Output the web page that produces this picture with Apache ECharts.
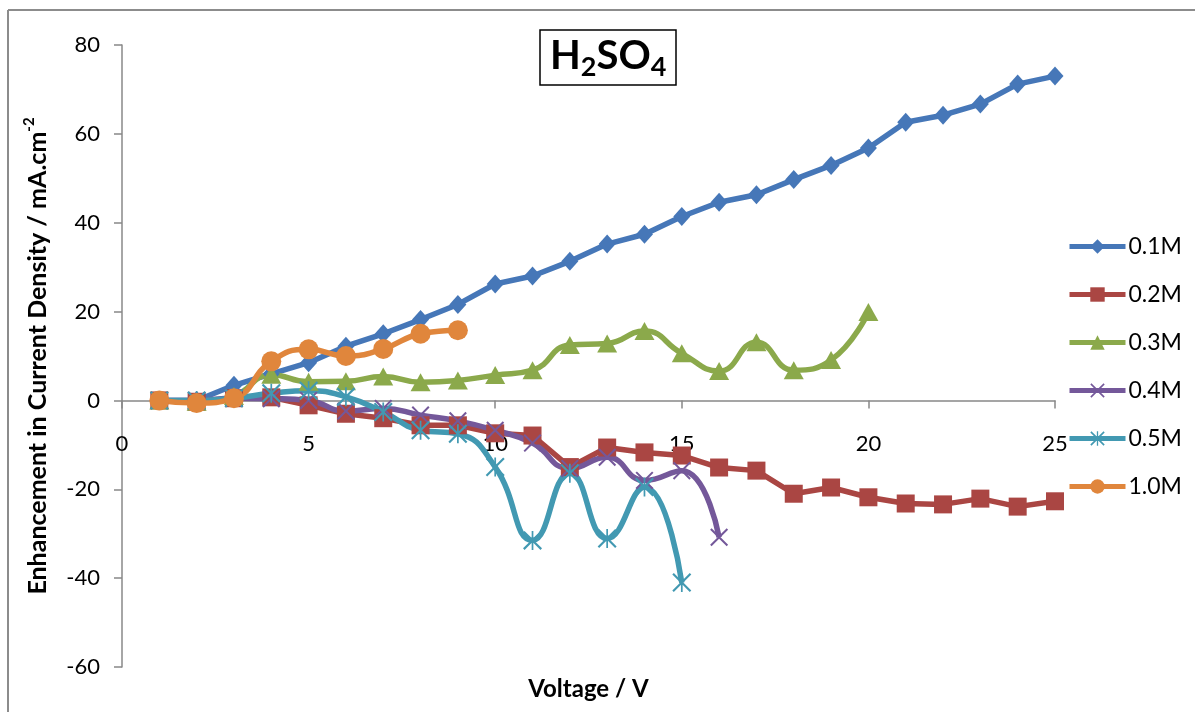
<!DOCTYPE html>
<html>
<head>
<meta charset="utf-8">
<script src="https://cdn.jsdelivr.net/npm/echarts@6/dist/echarts.min.js"></script>
<style>
html,body{margin:0;padding:0;background:#fff;}
#chart{width:1195px;height:712px;}
</style>
</head>
<body>
<div id="chart"></div>
<script>
// ---- data (x = voltage 1,2,3,... for each series) ----
const voltages = [1,2,3,4,5,6,7,8,9,10,11,12,13,14,15,16,17,18,19,20,21,22,23,24,25];
const seriesNames = ['0.1M','0.2M','0.3M','0.4M','0.5M','1.0M'];
const m01 = [0, 0, 3.4, 6, 8.5, 12.2, 15, 18.2, 21.6, 26.2, 28, 31.3, 35.2, 37.4, 41.4, 44.6, 46.3, 49.7, 52.9, 56.8, 62.6, 64.2, 66.7, 71.2, 73];
const m02 = [0, -0.3, 0.5, 0.7, -1.1, -3, -4, -5.6, -5.6, -7.4, -7.9, -15, -10.6, -11.7, -12.4, -15.1, -15.8, -21, -19.6, -21.8, -23.2, -23.4, -22.1, -23.9, -22.7];
const m03 = [0, -0.3, 1, 5.8, 4.2, 4.3, 5.4, 4.1, 4.5, 5.7, 6.8, 12.5, 12.8, 15.6, 10.6, 6.6, 13.1, 6.8, 9.1, 19.9];
const m04 = [0, 0, 0.5, 0.4, 0, -2.4, -1.8, -3.3, -4.6, -6.7, -9.6, -15.3, -12.8, -18, -15.8, -30.8];
const m05 = [0, 0, 0.5, 1.6, 2.2, 0.8, -2.6, -6.7, -7.5, -15, -31.5, -16.4, -31.1, -19.5, -41];
const m10 = [0, -0.6, 0.5, 8.8, 11.5, 10, 11.6, 15, 15.8];
const allValues = [m01, m02, m03, m04, m05, m10];
const xTicks = {min: 0, max: 25, interval: 5};
const yTicks = {min: -60, max: 80, interval: 20};

const colors = ['#4677B8', '#AA4643', '#8BA94B', '#74589A', '#4299B2', '#E0863C'];
const pX = 'path://M0,1.6 L1.6,0 L10,8.4 L18.4,0 L20,1.6 L11.6,10 L20,18.4 L18.4,20 L10,11.6 L1.6,20 L0,18.4 L8.4,10 Z';
const pStar = 'path://M0,1.6 L1.6,0 L10,8.4 L18.4,0 L20,1.6 L11.6,10 L20,18.4 L18.4,20 L10,11.6 L1.6,20 L0,18.4 L8.4,10 Z M9.1,0 L10.9,0 L10.9,20 L9.1,20 Z';
const symbols = ['diamond', 'rect', 'triangle', pX, pStar, 'circle'];
const symSizes = [[17,19], 18, [20,18], 18, 19, 20];
const smooths = [false, false, 0.5, 0.5, 0.5, 0.5];

const FONT = 'Lato, "Open Sans", sans-serif';

const GRID = {left: 122, right: 140, top: 45, bottom: 45};
const gridH = 712 - GRID.top - GRID.bottom;
// shift the x axis (line, ticks, labels, name) up to the y = 0 level
const xOffset = -(0 - yTicks.min) / (yTicks.max - yTicks.min) * gridH;

const series = allValues.map((vals, i) => ({
  name: seriesNames[i],
  type: 'line',
  data: vals.map((v, j) => [voltages[j], v]),
  smooth: smooths[i],
  symbol: symbols[i],
  symbolSize: symSizes[i],
  showAllSymbol: true,
  lineStyle: {width: 5.5, color: colors[i]},
  itemStyle: {color: colors[i], borderWidth: 0},
  emphasis: {disabled: true},
  animation: false
}));

const chart = echarts.init(document.getElementById('chart'), null, {renderer: 'canvas'});
chart.setOption({
  backgroundColor: '#ffffff',
  color: colors,
  animation: false,
  title: {
    text: '{a|H}{s|2}{a|SO}{s|4}',
    left: 540,
    top: 25,
    padding: [6, 10, 4, 10],
    borderColor: '#000',
    borderWidth: 1.5,
    textStyle: {
      rich: {
        a: {fontFamily: FONT, fontWeight: 'bold', fontSize: 40, color: '#000', lineHeight: 50, verticalAlign: 'middle'},
        s: {fontFamily: FONT, fontWeight: 'bold', fontSize: 27, color: '#000', lineHeight: 27, verticalAlign: 'bottom'}
      }
    }
  },
  legend: {
    orient: 'vertical',
    left: 1062,
    top: 230,
    itemWidth: 56,
    itemHeight: 18,
    itemGap: 25,
    lineStyle: {width: 5},
    textStyle: {fontFamily: FONT, fontSize: 23, color: '#000', padding: [0,0,0,-2]},
    data: seriesNames
  },
  grid: {left: GRID.left, right: GRID.right, top: GRID.top, bottom: GRID.bottom, containLabel: false, outerBoundsMode: 'none'},
  xAxis: {
    type: 'value',
    min: xTicks.min, max: xTicks.max, interval: xTicks.interval,
    position: 'bottom',
    offset: xOffset,
    name: 'Voltage / V',
    nameLocation: 'middle',
    nameGap: 277,
    nameTextStyle: {fontFamily: FONT, fontWeight: 'bold', fontSize: 24, color: '#000'},
    axisLine: {onZero: false, lineStyle: {color: '#888', width: 1.5}},
    axisTick: {show: true, length: 8, lineStyle: {color: '#888', width: 1.5}},
    axisLabel: {fontFamily: FONT, fontSize: 22, color: '#000', margin: 32},
    splitLine: {show: false}
  },
  yAxis: {
    type: 'value',
    min: yTicks.min, max: yTicks.max, interval: yTicks.interval,
    name: 'Enhancement in Current Density / mA.cm{sup|-2}',
    nameLocation: 'middle',
    nameGap: 68,
    nameRotate: 90,
    nameTextStyle: {
      fontFamily: FONT, fontWeight: 'bold', fontSize: 25, color: '#000', lineHeight: 32,
      rich: {sup: {fontFamily: FONT, fontWeight: 'bold', fontSize: 15, color: '#000', lineHeight: 16, verticalAlign: 'top'}}
    },
    axisLine: {show: true, onZero: false, lineStyle: {color: '#888', width: 1.5}},
    axisTick: {show: true, length: 8, lineStyle: {color: '#888', width: 1.5}},
    axisLabel: {fontFamily: FONT, fontSize: 22, color: '#000', margin: 22},
    splitLine: {show: false}
  },
  graphic: [
    {type: 'line', shape: {x1: 8, y1: 10, x2: 1195, y2: 10}, style: {stroke: '#8c8c8c', lineWidth: 2}},
    {type: 'line', shape: {x1: 8, y1: 10, x2: 8, y2: 712}, style: {stroke: '#8c8c8c', lineWidth: 2}}
  ],
  series: series
});
</script>
</body>
</html>
